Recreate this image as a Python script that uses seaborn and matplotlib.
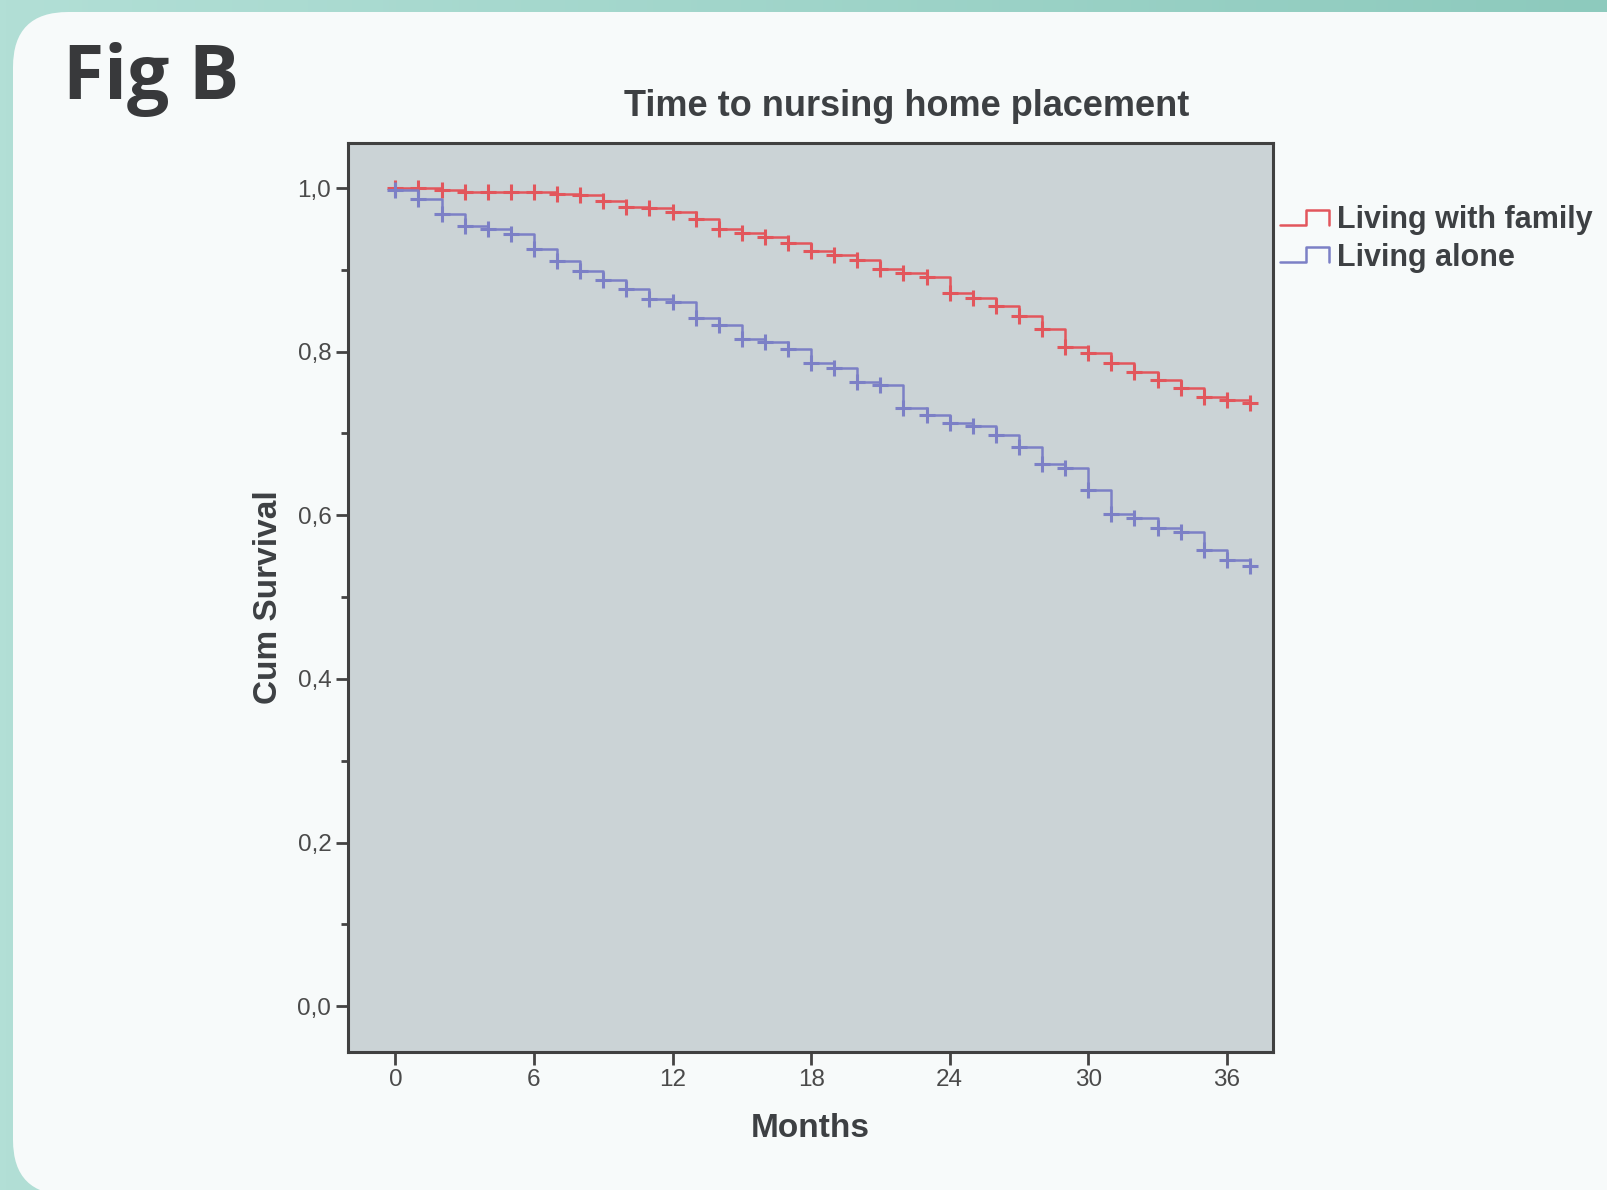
import numpy as np
import pandas as pd
import seaborn as sns
import matplotlib.pyplot as plt
from matplotlib.patches import FancyBboxPatch
from matplotlib.lines import Line2D
from matplotlib.legend_handler import HandlerBase
from matplotlib.colors import LinearSegmentedColormap

# Kaplan-Meier values (month -> cum survival)
months = list(range(0, 38))
family_surv = [1.000, 1.000, 0.998, 0.995, 0.995, 0.995, 0.995, 0.993, 0.992, 0.984,
               0.977, 0.976, 0.971, 0.962, 0.950, 0.945, 0.940, 0.933, 0.923, 0.918,
               0.912, 0.901, 0.896, 0.891, 0.872, 0.865, 0.856, 0.843, 0.828, 0.806,
               0.798, 0.786, 0.775, 0.765, 0.755, 0.744, 0.741, 0.737]
alone_surv = [0.998, 0.987, 0.968, 0.953, 0.950, 0.944, 0.925, 0.911, 0.899, 0.888,
              0.876, 0.864, 0.861, 0.841, 0.833, 0.815, 0.812, 0.803, 0.786, 0.780,
              0.763, 0.759, 0.731, 0.722, 0.713, 0.709, 0.698, 0.683, 0.663, 0.658,
              0.631, 0.602, 0.597, 0.584, 0.579, 0.558, 0.545, 0.538]
groups = ['Living with family', 'Living alone']
colors = ['#e2565c', '#7c80c6']

df = pd.DataFrame({
    'Months': months * 2,
    'Cum Survival': family_surv + alone_surv,
    'group': [groups[0]] * len(months) + [groups[1]] * len(months),
})

sns.set_style('ticks')
plt.rcParams['font.family'] = ['Liberation Sans', 'DejaVu Sans']

fig = plt.figure(figsize=(16.08, 11.90), dpi=100)

# teal background with a rounded light panel
bg = fig.add_axes([0, 0, 1, 1], zorder=-10)
bg.axis('off')
grad = np.linspace(0, 1, 256).reshape(1, -1)
cmap = LinearSegmentedColormap.from_list('teal', ['#b2dfd6', '#8dcabd'])
bg.imshow(grad, cmap=cmap, aspect='auto', extent=[0, 1, 0, 1])
bg.set_xlim(0, 1)
bg.set_ylim(0, 1)
panel = FancyBboxPatch((0.13, -0.05), 16.6, 11.83,
                       boxstyle='round,pad=0,rounding_size=0.55',
                       transform=fig.dpi_scale_trans, facecolor='#f7fafa',
                       edgecolor='none', clip_on=False, zorder=2)
bg.add_patch(panel)

ax = fig.add_axes([0.2164, 0.1160, 0.5753, 0.7638])
ax.set_facecolor('#cbd3d6')

sns.lineplot(data=df, x='Months', y='Cum Survival', hue='group', palette=colors,
             drawstyle='steps-post', linewidth=1.8, marker='+', markersize=11,
             markeredgewidth=2.2, ax=ax, legend=False)
# seaborn paints marker edges white, give them the line colour
for ln in ax.lines:
    ln.set_markeredgecolor(ln.get_color())

ax.set_xlim(-2.05, 38.0)
ax.set_ylim(-0.056, 1.055)
ax.set_xticks([0, 6, 12, 18, 24, 30, 36])
ax.set_yticks([0.0, 0.2, 0.4, 0.6, 0.8, 1.0])
ax.set_yticks(np.arange(0.1, 1.0, 0.2), minor=True)
ax.set_yticklabels(['0,0', '0,2', '0,4', '0,6', '0,8', '1,0'])
ax.tick_params(axis='both', which='major', direction='out', length=9, width=2,
               color='#444444', labelsize=17.5, labelcolor='#4a4a4a', pad=3)
ax.tick_params(axis='y', which='minor', direction='out', length=5, width=2,
               color='#444444')
for s in ax.spines.values():
    s.set_color('#404040')
    s.set_linewidth(2.2)

ax.set_xlabel('Months', fontsize=24, fontweight='bold', color='#3d4043', labelpad=16)
ax.set_ylabel('Cum Survival', fontsize=24, fontweight='bold', color='#3d4043', labelpad=10)

fig.text(0.5636, 0.9105, 'Time to nursing home placement', ha='center', va='center',
         fontsize=26, fontweight='bold', color='#3d4043')
fig.text(0.039, 0.933, 'Fig B', ha='left', va='center', fontsize=54,
         fontweight='bold', color='#38393b', family=['Open Sans', 'DejaVu Sans'])


class StepHandler(HandlerBase):
    def create_artists(self, legend, orig_handle, xdescent, ydescent, width, height,
                       fontsize, trans):
        xs = np.array([0, 0.53, 0.53, 1.0, 1.0]) * width - xdescent
        ys = np.array([0.15, 0.15, 0.85, 0.85, 0.15]) * height - ydescent
        ln = Line2D(xs, ys, color=orig_handle.get_color(), linewidth=1.8, transform=trans)
        return [ln]


handles = [Line2D([], [], color=c) for c in colors]
leg = fig.legend(handles, groups, loc='upper left', bbox_to_anchor=(0.7885, 0.838),
                 frameon=False, prop={'size': 22, 'weight': 'bold'},
                 handler_map={Line2D: StepHandler()}, handlelength=1.6,
                 handletextpad=0.25, labelspacing=0.25, borderaxespad=0)
for t in leg.get_texts():
    t.set_color('#3d4043')

plt.savefig('out.png', dpi=100)
